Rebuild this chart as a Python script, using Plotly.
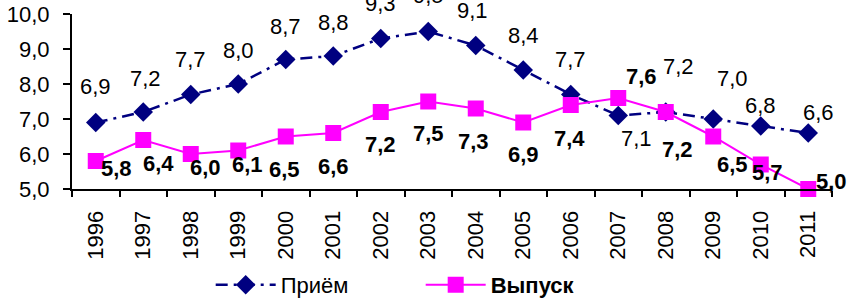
import plotly.graph_objects as go

years = ["1996", "1997", "1998", "1999", "2000", "2001", "2002", "2003",
         "2004", "2005", "2006", "2007", "2008", "2009", "2010", "2011"]
priem = [6.9, 7.2, 7.7, 8.0, 8.7, 8.8, 9.3, 9.5, 9.1, 8.4, 7.7, 7.1, 7.2, 7.0, 6.8, 6.6]
vypusk = [5.8, 6.4, 6.0, 6.1, 6.5, 6.6, 7.2, 7.5, 7.3, 6.9, 7.4, 7.6, 7.2, 6.5, 5.7, 5.0]

# label offsets in pixels (dx right, dy down) relative to each marker
priem_label_dx = [0, 2, 0, 0, 0, 0, 0, 0, -3, 0, 0, 18, 13, 19, 0, 10]
priem_label_dy = [-34, -32, -33, -32, -31, -32, -33, -34, -33, -33, -33, 25, -44, -39, -19, -19]
vyp_label_dx = [21, 15, 15, 9, -1, 0, 0, 0, -2, 0, -1, 23, 12, 19, 7, 23]
vyp_label_dy = [9, 25, 15, 16, 35, 35, 34, 34, 35, 34, 35, -20, 39, 30, 10, -6]

FONT = "Liberation Sans, Arial, sans-serif"
NAVY = "#000080"
MAGENTA = "#FF00FF"


def fmt(v):
    return f"{v:.1f}".replace(".", ",")


fig = go.Figure()
fig.add_trace(go.Scatter(
    x=years, y=priem, name="Приём", mode="lines+markers",
    line=dict(color=NAVY, width=2.5, dash="12px,6px,3px,6px"),
    marker=dict(symbol="diamond", size=15, color=NAVY),
    cliponaxis=False,
))
fig.add_trace(go.Scatter(
    x=years, y=vypusk, name="<b>Выпуск</b>", mode="lines+markers",
    line=dict(color=MAGENTA, width=2),
    marker=dict(symbol="square", size=16, color=MAGENTA),
    cliponaxis=False,
))

annotations = []
for i, v in enumerate(priem):
    annotations.append(dict(
        x=i, y=v, xref="x", yref="y", text=fmt(v), showarrow=False,
        xanchor="center", yanchor="middle",
        xshift=priem_label_dx[i], yshift=-priem_label_dy[i] + 2,
        font=dict(family=FONT, size=22, color="black"),
    ))
for i, v in enumerate(vypusk):
    annotations.append(dict(
        x=i, y=v, xref="x", yref="y", text="<b>" + fmt(v) + "</b>", showarrow=False,
        xanchor="center", yanchor="middle",
        xshift=vyp_label_dx[i], yshift=-vyp_label_dy[i] + 2,
        font=dict(family=FONT, size=22, color="black"),
    ))

fig.update_layout(
    width=853, height=299,
    margin=dict(l=72, r=21, t=14, b=110, pad=0, autoexpand=False),
    paper_bgcolor="white", plot_bgcolor="white",
    separators=", ",
    font=dict(family=FONT, size=22, color="black"),
    annotations=annotations,
    showlegend=True,
    legend=dict(
        orientation="h", xref="container", yref="container",
        x=0.247, y=0.047, xanchor="left", yanchor="middle",
        font=dict(family=FONT, size=22, color="black"),
        bgcolor="rgba(0,0,0,0)", itemwidth=60, entrywidth=135,
    ),
    xaxis=dict(
        type="category", range=[-0.5, 15.5], tickangle=-90,
        showline=True, linecolor="black", linewidth=2,
        ticks="outside", ticklen=6, tickwidth=2, tickcolor="black",
        tickson="boundaries", showgrid=False, zeroline=False,
        automargin=False, ticklabelstandoff=11,
        tickfont=dict(family=FONT, size=22, color="black"),
    ),
    yaxis=dict(
        range=[5, 10], dtick=1, tick0=5, tickformat=".1f",
        showline=True, linecolor="black", linewidth=2,
        ticks="outside", ticklen=7, tickwidth=2, tickcolor="black",
        showgrid=False, zeroline=False,
        automargin=False, ticklabelstandoff=9,
        tickfont=dict(family=FONT, size=22, color="black"),
    ),
)

fig.write_html("out.html", config={"displayModeBar": False},
               post_script="document.body.style.margin='0';")
